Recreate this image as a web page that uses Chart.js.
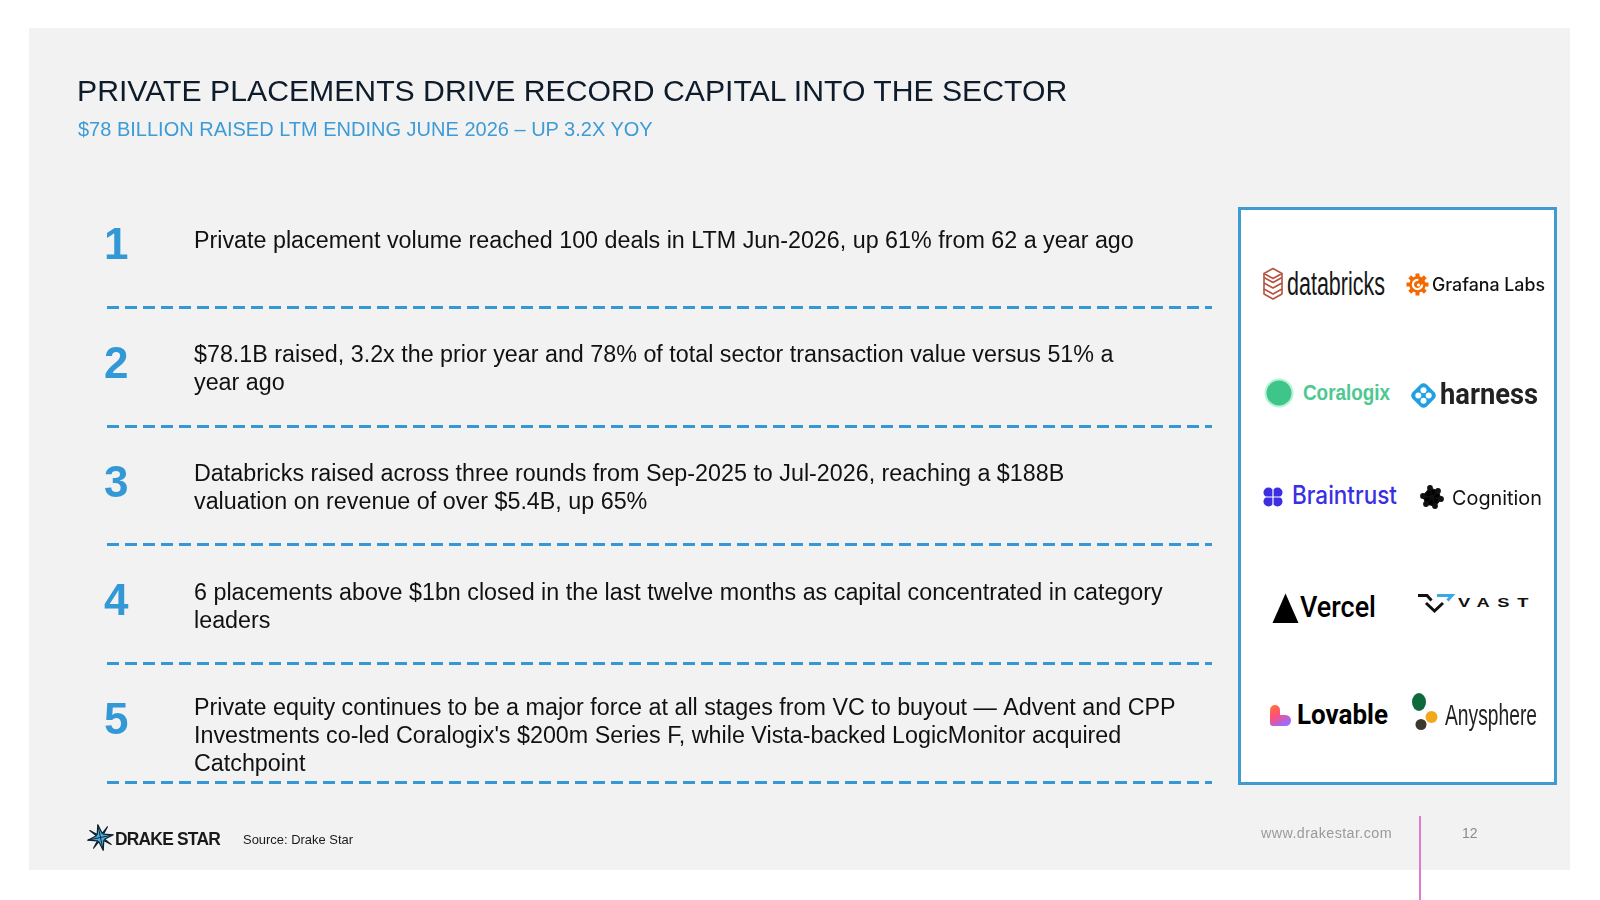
<!DOCTYPE html>
<html>
<head>
<meta charset="utf-8">
<script src="https://cdn.jsdelivr.net/npm/chart.js@4.4.1/dist/chart.umd.min.js"></script>
<style>
html,body{margin:0;padding:0;background:#fff;width:1600px;height:900px;overflow:hidden;}
#panel{position:absolute;left:29px;top:28px;width:1541px;height:842px;background:#f2f2f2;}
#chart{position:absolute;left:0;top:0;}
.t{position:absolute;white-space:nowrap;font-family:"Liberation Sans",Arial,sans-serif;line-height:1;transform-origin:0 0;}
svg{position:absolute;overflow:visible;}
#logobox{position:absolute;left:1238px;top:207px;width:319px;height:578px;box-sizing:border-box;border:3px solid #3f9bd2;background:#fff;}
#pink{position:absolute;left:1418.5px;top:816px;width:2px;height:84px;background:#e07cc9;}
</style>
</head>
<body>
<div id="panel"></div>
<canvas id="chart" width="1600" height="900"></canvas>
<div id="logobox"></div>
<div id="pink"></div>

<div class="t" id="title" style="left:77px;font-size:30.2px;color:#0d1b2a;">PRIVATE PLACEMENTS DRIVE RECORD CAPITAL INTO THE SECTOR</div>
<div class="t" id="subtitle" style="left:78px;font-size:20px;color:#3d9bd6;">$78 BILLION RAISED LTM ENDING JUNE 2026 – UP 3.2X YOY</div>

<!-- logo icons -->
<svg style="left:1262px;top:267px" width="22" height="34" viewBox="0 0 22 34" fill="none" stroke="#b5533f" stroke-width="1.6" stroke-linejoin="round">
  <path d="M11 1.5 L20 6.5 L11 11.5 L2 6.5 Z"/>
  <path d="M2 10.5 L11 15.5 L20 10.5"/>
  <path d="M2 6.5 V22 L11 27 L20 22 V6.5"/>
  <path d="M2 16 L11 21 L20 16"/>
  <path d="M2 22 V27 L11 32 L20 27 V22"/>
</svg>
<svg style="left:1406px;top:273px" width="23" height="23" viewBox="-11.5 -11.5 23 23">
  <g fill="#f46800">
    <circle r="8.2"/>
    <rect x="-2" y="-11" width="4" height="5" transform="rotate(0)"/>
    <rect x="-2" y="-11" width="4" height="5" transform="rotate(45)"/>
    <rect x="-2" y="-11" width="4" height="5" transform="rotate(90)"/>
    <rect x="-2" y="-11" width="4" height="5" transform="rotate(135)"/>
    <rect x="-2" y="-11" width="4" height="5" transform="rotate(180)"/>
    <rect x="-2" y="-11" width="4" height="5" transform="rotate(225)"/>
    <rect x="-2" y="-11" width="4" height="5" transform="rotate(270)"/>
    <rect x="-2" y="-11" width="4" height="5" transform="rotate(315)"/>
  </g>
  <circle r="4.6" fill="none" stroke="#fff" stroke-width="2.2" stroke-dasharray="22 7"/>
  <circle cx="1" cy="0.5" r="1.6" fill="#fff"/>
</svg>
<svg style="left:1264px;top:378px" width="30" height="30" viewBox="0 0 30 30">
  <circle cx="15" cy="15" r="13.5" fill="#3ec58a" stroke="#b7f2d4" stroke-width="2"/>
</svg>
<svg style="left:1409px;top:380.5px" width="29" height="29" viewBox="-14.5 -14.5 29 29">
  <rect x="-10" y="-10" width="20" height="20" rx="4.5" transform="rotate(45)" fill="#1ea0e1"/>
  <circle cx="-5.2" cy="0" r="3" fill="#fff"/>
  <circle cx="5.2" cy="0" r="3" fill="#fff"/>
  <circle cx="0" cy="-5.2" r="3" fill="#fff"/>
  <circle cx="0" cy="5.2" r="3" fill="#fff"/>
</svg>
<svg style="left:1263px;top:487px" width="20" height="20" viewBox="0 0 20 20" fill="#3d2ee2">
  <circle cx="5.5" cy="5.5" r="5"/><circle cx="14.5" cy="5.5" r="5"/>
  <circle cx="5.5" cy="14.5" r="5"/><circle cx="14.5" cy="14.5" r="5"/>
  <rect x="5" y="5" width="10" height="10"/>
  <path d="M10 2.5 V17.5 M2.5 10 H17.5" stroke="#fff" stroke-width="1.2"/>
</svg>
<svg style="left:1420px;top:485px" width="24" height="24" viewBox="-12 -12 24 24">
  <g stroke="#111" stroke-width="1.3">
    <path d="M-2 -9 L6 -6 L9 2 L3 9 L-6 7 L-9 -1 Z M-2 -9 L3 9 M6 -6 L-6 7 M9 2 L-9 -1"/>
  </g>
  <g fill="#111">
    <circle cx="-2" cy="-9" r="2.9"/><circle cx="6" cy="-6" r="2.9"/><circle cx="9" cy="2" r="2.9"/>
    <circle cx="3" cy="9" r="2.9"/><circle cx="-6" cy="7" r="2.9"/><circle cx="-9" cy="-1" r="2.9"/>
    <circle cx="0" cy="0" r="2.2"/>
  </g>
</svg>
<svg style="left:1272px;top:593px" width="27" height="31" viewBox="0 0 27 31">
  <polygon points="0.5,30 13.5,0.5 26.5,30" fill="#000"/>
</svg>
<svg style="left:1417px;top:593px" width="36" height="20" viewBox="0 0 36 20" fill="none" stroke-width="3">
  <path d="M1 2.5 H10 L14.5 7.5" stroke="#111"/>
  <path d="M20 2.5 H35 L30.5 7.5" stroke="#3aa8e6"/>
  <path d="M9 10 L17.5 18 L26 10" stroke="#111"/>
</svg>
<svg style="left:1270px;top:705px" width="21" height="21" viewBox="0 0 21 21">
  <defs><linearGradient id="lovg" x1="0" y1="0" x2="0.6" y2="1">
    <stop offset="0" stop-color="#ff7a2e"/><stop offset="0.5" stop-color="#ff4f7a"/><stop offset="1" stop-color="#9b6bff"/>
  </linearGradient></defs>
  <path d="M0 5 A5 5 0 0 1 10 5 V10 H15.5 A5.5 5.5 0 0 1 15.5 21 H3 A3 3 0 0 1 0 18 Z" fill="url(#lovg)"/>
</svg>
<svg style="left:1410px;top:692px" width="30" height="40" viewBox="0 0 30 40">
  <ellipse cx="9" cy="10" rx="7" ry="9" fill="#0f6a3b"/>
  <circle cx="21.5" cy="25" r="6" fill="#f1a91a"/>
  <circle cx="11" cy="32.5" r="5.5" fill="#3b382e"/>
</svg>

<!-- footer -->
<svg style="left:87px;top:824px" width="27" height="27" viewBox="-13.5 -13.5 27 27">
  <g transform="rotate(-12)">
  <polygon points="0,-13 2.6,-3.6 9,-9 3.6,-2.6 13,0 3.6,2.6 9,9 2.6,3.6 0,13 -2.6,3.6 -9,9 -3.6,2.6 -13,0 -3.6,-2.6 -9,-9 -2.6,-3.6" fill="#45b0e2" stroke="#14202c" stroke-width="1.2" stroke-linejoin="round"/>
  <path d="M0,-13 L0,13 M-13,0 L13,0" stroke="#14202c" stroke-width="0.9"/>
  </g>
</svg>
<div class="t fit" id="drake" data-w="105" style="left:115px;font-size:18px;font-weight:700;color:#1a1a1a;letter-spacing:-0.8px;">DRAKE STAR</div>
<div class="t fit" id="source" data-w="110" style="left:243px;font-size:13px;color:#1a1a1a;">Source: Drake Star</div>
<div class="t fit" id="www" data-w="131" style="left:1261px;font-size:14px;color:#9a9a9a;letter-spacing:0.4px;">www.drakestar.com</div>
<div class="t" id="page" style="left:1462px;font-size:14px;color:#8a8a8a;">12</div>

<script>
// ---------- data ----------
const itemNumbers = ['1', '2', '3', '4', '5'];
const itemLines = [
  ['Private placement volume reached 100 deals in LTM Jun-2026, up 61% from 62 a year ago'],
  ['$78.1B raised, 3.2x the prior year and 78% of total sector transaction value versus 51% a',
   'year ago'],
  ['Databricks raised across three rounds from Sep-2025 to Jul-2026, reaching a $188B',
   'valuation on revenue of over $5.4B, up 65%'],
  ['6 placements above $1bn closed in the last twelve months as capital concentrated in category',
   'leaders'],
  ['Private equity continues to be a major force at all stages from VC to buyout \u2014 Advent and CPP',
   'Investments co-led Coralogix\'s $200m Series F, while Vista-backed LogicMonitor acquired',
   'Catchpoint']
];
const logoNames = ['databricks', 'Grafana Labs', 'Coralogix', 'harness', 'Braintrust',
                   'Cognition', 'Vercel', 'VAST', 'Lovable', 'Anysphere'];

// ---------- layout (not data) ----------
const K = { '"Liberation Sans"': 0.8465, 'Roboto': 0.8418, 'Inter': 0.8633 };
const logoStyle = [
  {x:1287, b:295,   w:98,  fs:33,   ff:'"Liberation Sans"', fw:400, c:'#161616'},
  {x:1432, b:291.5, w:113, fs:18,   ff:'Inter',             fw:500, c:'#111'},
  {x:1303, b:401,   w:87,  fs:22,   ff:'"Liberation Sans"', fw:700, c:'#4cc890'},
  {x:1440, b:404,   w:98,  fs:30,   ff:'Roboto',            fw:700, c:'#222'},
  {x:1292, b:505,   w:105, fs:25,   ff:'Inter',             fw:500, c:'#3b2fe3'},
  {x:1452, b:505,   w:90,  fs:20,   ff:'Inter',             fw:400, c:'#111'},
  {x:1300, b:617,   w:76,  fs:30,   ff:'Roboto',            fw:500, c:'#000'},
  {x:1458, b:607.5, w:78,  fs:12,   ff:'"Liberation Sans"', fw:700, c:'#111', ls:5},
  {x:1297, b:725,   w:91,  fs:28,   ff:'Roboto',            fw:700, c:'#000'},
  {x:1445, b:725,   w:92,  fs:30,   ff:'"Liberation Sans"', fw:400, c:'#222'}
];

function placeBaseline(el, baseline, fs, ff) {
  el.style.top = (baseline - (K[ff] || 0.8465) * fs) + 'px';
}
function fitWidth(el, w) {
  const nat = el.getBoundingClientRect().width;
  if (nat > 0) el.style.transform = 'scaleX(' + (w / nat) + ')';
}

logoNames.forEach((name, i) => {
  const s = logoStyle[i];
  const el = document.createElement('div');
  el.className = 't';
  el.textContent = name;
  el.style.left = s.x + 'px';
  el.style.fontFamily = s.ff;
  el.style.fontSize = s.fs + 'px';
  el.style.fontWeight = s.fw;
  el.style.color = s.c;
  if (s.ls) el.style.letterSpacing = s.ls + 'px';
  document.body.appendChild(el);
  placeBaseline(el, s.b, s.fs, s.ff);
  fitWidth(el, s.w);
});

placeBaseline(document.getElementById('title'), 102, 30.2);
placeBaseline(document.getElementById('subtitle'), 136, 20);
placeBaseline(document.getElementById('drake'), 845, 18);
placeBaseline(document.getElementById('source'), 844, 13);
placeBaseline(document.getElementById('www'), 838, 14);
placeBaseline(document.getElementById('page'), 838, 14);
document.querySelectorAll('.fit').forEach(el => fitWidth(el, +el.dataset.w));

// ---------- chart ----------
const listPlugin = {
  id: 'numberedList',
  afterDatasetsDraw(chart) {
    const { ctx } = chart;
    const y = chart.scales.y;
    ctx.save();
    ctx.textBaseline = 'alphabetic';
    ctx.textAlign = 'left';
    itemNumbers.forEach((num, i) => {
      const top = y.getPixelForValue(i);
      const unit = y.getPixelForValue(i + 1) - top;
      ctx.font = 'bold 44px "Liberation Sans", Arial, sans-serif';
      ctx.fillStyle = '#3398d6';
      ctx.fillText(num, 104, top + unit * 0.593);
      const lines = itemLines[i];
      const off = lines.length === 1 ? 0.505 : (lines.length === 2 ? 0.465 : 0.43);
      ctx.font = '23.3px "Liberation Sans", Arial, sans-serif';
      ctx.fillStyle = '#111111';
      lines.forEach((ln, j) => {
        ctx.fillText(ln, 194, top + unit * off + j * 28);
      });
    });
    ctx.restore();
  }
};

new Chart(document.getElementById('chart'), {
  type: 'scatter',
  data: {
    labels: itemNumbers,
    datasets: [{
      data: itemNumbers.map((n, i) => ({ x: 0.5, y: i + 0.5 })),
      pointRadius: 0,
      pointHoverRadius: 0
    }]
  },
  options: {
    responsive: false,
    animation: false,
    devicePixelRatio: 1,
    events: [],
    layout: { padding: { left: 107, right: 388, top: 188.4, bottom: 117.5 } },
    plugins: { legend: { display: false }, tooltip: { enabled: false } },
    scales: {
      x: { display: false, min: 0, max: 1 },
      y: {
        reverse: true, min: 0, max: 5,
        afterFit(s) { s.width = 0; },
        ticks: { display: false, stepSize: 1 },
        grid: {
          drawTicks: false,
          lineWidth: 3,
          color: c => (c.tick && c.tick.value === 0) ? 'rgba(0,0,0,0)' : '#3597d3'
        },
        border: { display: false, dash: [12, 6] }
      }
    }
  },
  plugins: [listPlugin]
});
</script>
</body>
</html>
